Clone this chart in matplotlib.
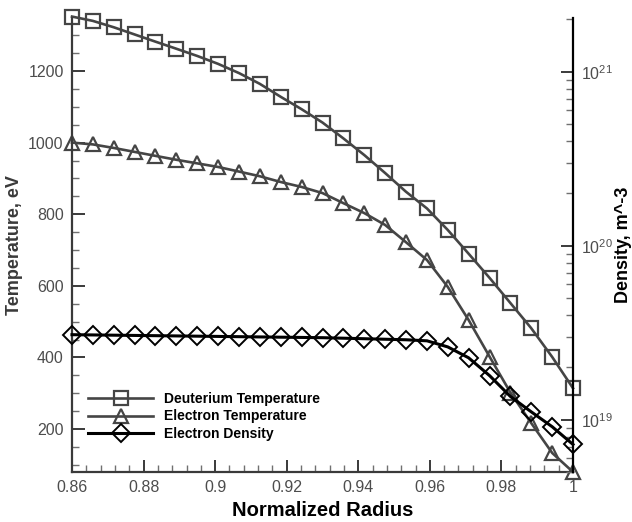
import numpy as np
import matplotlib
matplotlib.use("Agg")
import matplotlib.pyplot as plt
from matplotlib.ticker import MultipleLocator, FixedLocator, FixedFormatter, LogLocator, NullFormatter

plt.rcParams['font.family'] = ['Liberation Sans', 'DejaVu Sans']
plt.rcParams['mathtext.fontset'] = 'custom'
plt.rcParams['mathtext.rm'] = 'Liberation Sans'
plt.rcParams['mathtext.it'] = 'Liberation Sans'

# normalized radius of the profile points
radius = [0.86, 0.8658, 0.8717, 0.8775, 0.8833, 0.8892, 0.895, 0.9008, 0.9067,
          0.9125, 0.9183, 0.9242, 0.93, 0.9358, 0.9417, 0.9475, 0.9533, 0.9592,
          0.965, 0.9708, 0.9767, 0.9825, 0.9883, 0.9942, 1.0]

# deuterium temperature, eV
temp_d = [1352, 1340, 1322, 1302, 1282, 1262, 1242, 1220, 1194, 1164, 1128, 1093,
          1056, 1012, 965, 915, 863, 816, 756, 690, 622, 552, 482, 401, 314]

# electron temperature, eV
temp_e = [1000, 995, 985, 974, 963, 952, 942, 932, 919, 906, 890, 876,
          859, 831, 803, 770, 722, 672, 597, 505, 402, 302, 217, 133, 80]

# electron density, m^-3
dens_e = [3.08e19, 3.07e19, 3.06e19, 3.05e19, 3.04e19, 3.03e19, 3.02e19, 3.01e19,
          3.00e19, 2.99e19, 2.98e19, 2.97e19, 2.96e19, 2.94e19, 2.92e19, 2.90e19,
          2.88e19, 2.84e19, 2.62e19, 2.27e19, 1.79e19, 1.36e19, 1.11e19, 0.91e19,
          0.72e19]

x_ticks = [0.86, 0.88, 0.9, 0.92, 0.94, 0.96, 0.98, 1.0]
x_ticklabels = ['0.86', '0.88', '0.9', '0.92', '0.94', '0.96', '0.98', '1']
dens_ticks = [1e19, 1e20, 1e21]
dens_ticklabels = [r'$10^{19}$', r'$10^{20}$', r'$10^{21}$']

gray = '#454545'
txt_gray = '#4d4d4d'

fig = plt.figure(figsize=(6.32, 5.22), dpi=100)
ax = fig.add_axes([72 / 632, 1 - 472 / 522, (573 - 72) / 632, (472 - 18) / 522])
ax2 = ax.twinx()

l1, = ax.plot(radius, temp_d, color=gray, lw=1.9, marker='s', ms=10.5,
              mfc='none', mec=gray, mew=1.6, label='Deuterium Temperature', clip_on=False)
l2, = ax.plot(radius, temp_e, color=gray, lw=1.9, marker='^', ms=10.5,
              mfc='none', mec=gray, mew=1.6, label='Electron Temperature', clip_on=False)
l3, = ax2.plot(radius, dens_e, color='black', lw=2.2, marker='D', ms=9.5,
               mfc='none', mec='black', mew=1.4, label='Electron Density', clip_on=False)

ax.set_xlim(0.86, 1.0)
ax.set_ylim(80, 1348)
ax2.set_yscale('log')
ax2.set_ylim(5.0e18, 2.04e21)

for s in ['top', 'right']:
    ax.spines[s].set_visible(False)
ax2.spines['top'].set_visible(False)
ax2.spines['left'].set_visible(False)
ax2.spines['bottom'].set_visible(False)
ax.spines['left'].set_color('#3a3a3a')
ax.spines['bottom'].set_color('#3a3a3a')
ax.spines['left'].set_linewidth(1.6)
ax.spines['bottom'].set_linewidth(1.6)
ax2.spines['right'].set_color('black')
ax2.spines['right'].set_linewidth(1.6)

ax.xaxis.set_major_locator(FixedLocator(x_ticks))
ax.xaxis.set_major_formatter(FixedFormatter(x_ticklabels))
ax.xaxis.set_minor_locator(MultipleLocator(0.004))
ax.yaxis.set_major_locator(MultipleLocator(200))
ax.yaxis.set_minor_locator(MultipleLocator(50))

ax2.yaxis.set_major_locator(FixedLocator(dens_ticks))
ax2.yaxis.set_major_formatter(FixedFormatter(dens_ticklabels))
ax2.yaxis.set_minor_locator(LogLocator(base=10, subs=np.arange(2, 10)))
ax2.yaxis.set_minor_formatter(NullFormatter())

for a in (ax, ax2):
    a.tick_params(which='major', direction='in', length=9, width=1.4,
                  labelsize=11.5, labelcolor=txt_gray, color='#3a3a3a', pad=6)
    a.tick_params(which='minor', direction='in', length=5, width=1.0, color='#707070')

ax.set_xlabel('Normalized Radius', fontsize=14.5, fontweight='bold', labelpad=4)
ax.set_ylabel('Temperature, eV', fontsize=13, fontweight='bold', color='#3a3a3a', labelpad=4)
ax2.set_ylabel('Density, m^-3', fontsize=13, fontweight='bold', color='black', rotation=90)
ax2.yaxis.set_label_coords(1.084, 0.5)

ax.legend(handles=[l1, l2, l3], loc='upper left', bbox_to_anchor=(88 / 632, 1 - 392 / 522),
          bbox_transform=fig.transFigure, frameon=False,
          prop={'weight': 'bold', 'size': 10}, numpoints=1, handlelength=4.7,
          handletextpad=0.8, labelspacing=0.25, borderpad=0, borderaxespad=0)

fig.savefig('out.png', dpi=100)
